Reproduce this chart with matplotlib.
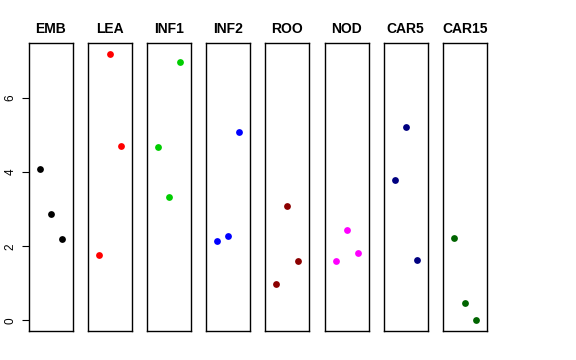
import matplotlib
matplotlib.use("Agg")
from matplotlib import pyplot as plt

plt.rcParams['font.family'] = ['Liberation Sans', 'DejaVu Sans']

tissues = ["EMB", "LEA", "INF1", "INF2", "ROO", "NOD", "CAR5", "CAR15"]
colors = ["black", "red", "#00cd00", "blue", "#8b0000", "magenta", "#000080", "#006400"]
reps = [1, 2, 3]

emb = [4.08, 2.88, 2.20]
lea = [1.76, 7.20, 4.70]
inf1 = [4.67, 3.32, 6.97]
inf2 = [2.14, 2.27, 5.09]
roo = [0.99, 3.09, 1.61]
nod = [1.60, 2.43, 1.83]
car5 = [3.78, 5.22, 1.64]
car15 = [2.21, 0.47, 0.00]
values = [emb, lea, inf1, inf2, roo, nod, car5, car15]

W, H = 576, 360
fig = plt.figure(figsize=(W / 100, H / 100), dpi=100)

for i in range(len(tissues)):
    left = 29 + i * 59.1
    ax = fig.add_axes([left / W, (H - 331) / H, 44 / W, 288 / H])
    ax.scatter(reps, values[i], s=24, color=colors[i], zorder=3, linewidths=0)
    ax.set_xlim(0, 4)
    ax.set_ylim(-0.288, 7.488)
    ax.set_xticks([])
    ax.set_title(tissues[i], fontsize=10, fontweight="bold", pad=7)
    for s in ax.spines.values():
        s.set_linewidth(1.0)
        s.set_color("black")
    if i == 0:
        ax.set_yticks([0, 2, 4, 6])
        ax.tick_params(axis="y", length=5, labelsize=8.5, pad=4)
        for lab in ax.get_yticklabels():
            lab.set_rotation(90)
            lab.set_va("center")
    else:
        ax.set_yticks([])

fig.savefig("out.png", dpi=100)
